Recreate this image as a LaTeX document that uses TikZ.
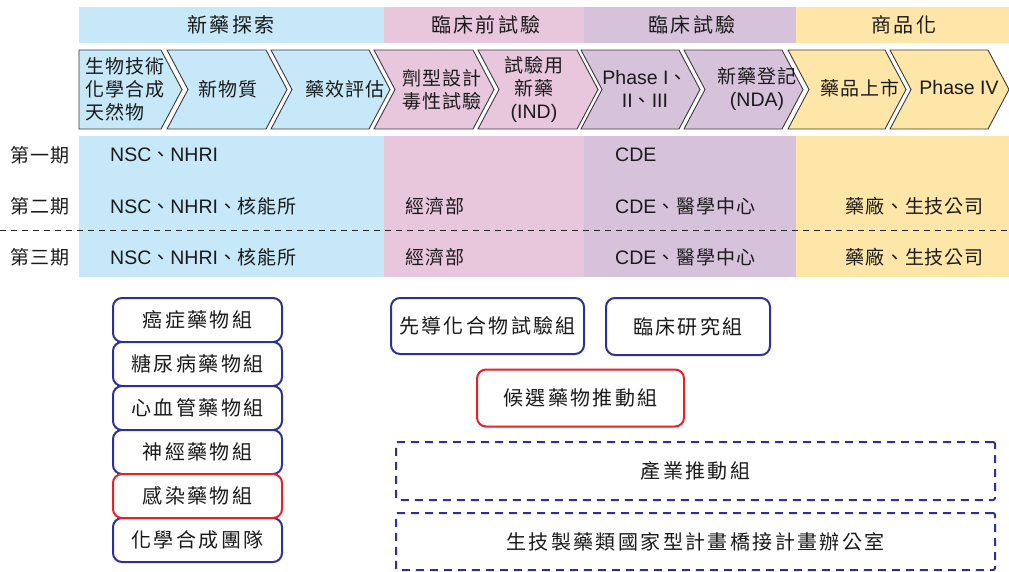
\documentclass[tikz,border=0pt]{standalone}
\usepackage{fontspec}
\setmainfont{Liberation Sans}
\newfontfamily\cjkn[LetterSpace=5]{Noto Sans CJK TC}
\newfontfamily\cjkw[LetterSpace=12]{Noto Sans CJK TC}
\newcommand\zh[1]{{\cjkn\fontsize{19}{23}\selectfont #1}}
\newcommand\zw[1]{{\cjkw\fontsize{20}{23}\selectfont #1}}
\definecolor{cblue}{HTML}{C6E8F8}
\definecolor{cpink}{HTML}{E8C7DD}
\definecolor{cpurple}{HTML}{D7C2DC}
\definecolor{cyellow}{HTML}{FEE6A8}
\definecolor{navy}{HTML}{2E3192}
\definecolor{cred}{HTML}{E8202A}
\definecolor{edgec}{HTML}{3A3A3A}
\definecolor{txt}{HTML}{1A1A1A}
\newcommand\chevshape[4]{%
  \draw[chevline, fill=#3] (#1,50) -- (#2,50) -- ({#2+21},89.5) -- (#2,129) -- (#1,129) -- ({#1+#4},89.5) -- cycle;}
\tikzset{
  chevline/.style={draw=edgec, line width=0.9pt, line join=miter},
  txtnode/.style={text=txt, inner sep=0pt, font=\fontsize{19.5}{23}\selectfont},
  ctext/.style={txtnode, align=center},
  rowtxt/.style={txtnode, anchor=west},
  grpbox/.style={draw=navy, line width=2pt, rounded corners=9pt, fill=white, text=txt, inner sep=0pt, align=center, font=\fontsize{19.5}{23}\selectfont},
  redbox/.style={grpbox, draw=cred},
  dashbox/.style={draw=navy, line width=2pt, dash pattern=on 8pt off 6pt, rounded corners=2pt, text=txt, inner sep=0pt, font=\fontsize{19.5}{23}\selectfont},
  rowsep/.style={draw=black!85, line width=1pt, dash pattern=on 6pt off 5pt}
}
\begin{document}
\begin{tikzpicture}[x=1pt,y=-1pt]
\useasboundingbox (0,0) rectangle (1009,571);
% header bands
\fill[cblue] (79,7) rectangle (384,43);
\fill[cpink] (384,7) rectangle (584,43);
\fill[cpurple] (584,7) rectangle (796,43);
\fill[cyellow] (796,7) rectangle (1009,43);
\node[txtnode] (h1) at (231,25) {\zw{新藥探索}};
\node[txtnode] (h2) at (486,25) {\zw{臨床前試驗}};
\node[txtnode] (h3) at (692,25) {\zw{臨床試驗}};
\node[txtnode] (h4) at (904,25) {\zw{商品化}};
% row bands
\fill[cblue] (79,136) rectangle (384,277);
\fill[cpink] (384,136) rectangle (584,277);
\fill[cpurple] (584,136) rectangle (796,277);
\fill[cyellow] (796,136) rectangle (1009,277);
% chevrons
\chevshape{79}{161}{cblue}{0}
\chevshape{167}{266}{cblue}{21}
\chevshape{271}{369}{cblue}{21}
\chevshape{374}{473}{cpink}{21}
\chevshape{478}{577}{cpink}{21}
\chevshape{581}{679}{cpurple}{21}
\chevshape{684}{782}{cpurple}{21}
\chevshape{788}{885}{cyellow}{21}
\chevshape{890}{988}{cyellow}{21}
\node[ctext, anchor=west, align=left] (c1) at (85,89.5) {\zh{生物技術}\\\zh{化學合成}\\\zh{天然物}};
\node[ctext] (c2) at (228,89.5) {\zh{新物質}};
\node[ctext] (c3) at (345,89.5) {\zh{藥效評估}};
\node[ctext] (c4) at (442,89.5) {\zh{劑型設計}\\\zh{毒性試驗}};
\node[ctext] (c5) at (534,89.5) {\zh{試驗用}\\\zh{新藥}\\(IND)};
\node[ctext] (c6) at (645,89) {Phase I\zh{、}\\II\zh{、}III};
\node[ctext] (c7) at (757,88.5) {\zh{新藥登記}\\(NDA)};
\node[ctext] (c8) at (860,88) {\zh{藥品上市}};
\node[ctext] (c9) at (959,88) {Phase IV};
% rows
\coordinate (sepL) at (0,230);
\coordinate (sepR) at (1009,230);
\draw[rowsep] (sepL) -- (sepR);
\node[rowtxt] (r1) at (10,155) {\zh{第一期}};
\node[rowtxt] (r2) at (10,206) {\zh{第二期}};
\node[rowtxt] (r3) at (10,257) {\zh{第三期}};
\node[rowtxt] (a1) at (110,155) {NSC\zh{、}NHRI};
\node[rowtxt] (a2) at (110,206) {NSC\zh{、}NHRI\zh{、核能所}};
\node[rowtxt] (a3) at (110,257) {NSC\zh{、}NHRI\zh{、核能所}};
\node[rowtxt] (b2) at (405,206) {\zh{經濟部}};
\node[rowtxt] (b3) at (405,257) {\zh{經濟部}};
\node[rowtxt] (d1) at (615,155) {CDE};
\node[rowtxt] (d2) at (615,206) {CDE\zh{、醫學中心}};
\node[rowtxt] (d3) at (615,257) {CDE\zh{、醫學中心}};
\node[rowtxt] (e2) at (845,206) {\zh{藥廠、生技公司}};
\node[rowtxt] (e3) at (845,257) {\zh{藥廠、生技公司}};
% left groups
\node[grpbox, minimum width=169pt, minimum height=44pt] (g1) at (197.5,320) {\zw{癌症藥物組}};
\node[grpbox, minimum width=169pt, minimum height=44pt] (g2) at (197.5,364) {\zw{糖尿病藥物組}};
\node[grpbox, minimum width=169pt, minimum height=44pt] (g3) at (197.5,408) {\zw{心血管藥物組}};
\node[grpbox, minimum width=169pt, minimum height=44pt] (g4) at (197.5,452) {\zw{神經藥物組}};
\node[grpbox, minimum width=169pt, minimum height=44pt] (g6) at (197.5,540) {\zw{化學合成團隊}};
\node[redbox, minimum width=169pt, minimum height=44pt] (g5) at (197.5,496) {\zw{感染藥物組}};
% right groups
\node[grpbox, minimum width=193pt, minimum height=56pt] (p1) at (487.5,326) {\zw{先導化合物試驗組}};
\node[grpbox, minimum width=164pt, minimum height=57pt] (p2) at (688,326.5) {\zw{臨床研究組}};
\node[redbox, minimum width=207pt, minimum height=57pt] (p3) at (580.5,398) {\zw{候選藥物推動組}};
\node[dashbox, minimum width=599pt, minimum height=58pt] (q1) at (695.5,471) {\zw{產業推動組}};
\node[dashbox, minimum width=599pt, minimum height=57pt] (q2) at (695.5,541.5) {\zw{生技製藥類國家型計畫橋接計畫辦公室}};
\end{tikzpicture}
\end{document}
